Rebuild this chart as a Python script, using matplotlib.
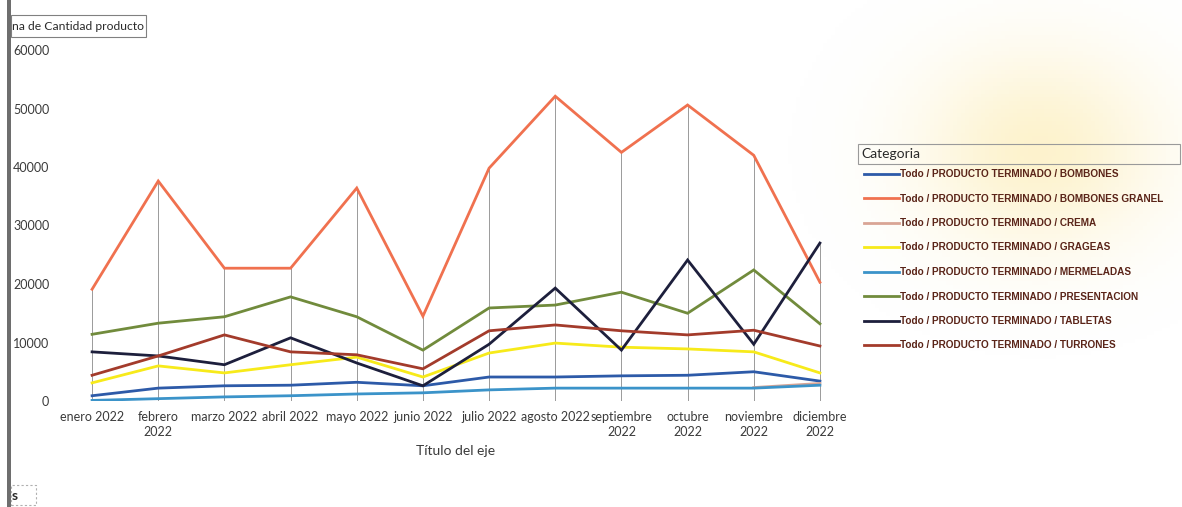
import numpy as np
import matplotlib
matplotlib.use("Agg")
import matplotlib.pyplot as plt
from matplotlib.patches import Rectangle

plt.rcParams['font.family'] = ['Lato', 'DejaVu Sans']

months = ["enero 2022", "febrero\n2022", "marzo 2022", "abril 2022", "mayo 2022",
          "junio 2022", "julio 2022", "agosto 2022", "septiembre\n2022",
          "octubre\n2022", "noviembre\n2022", "diciembre\n2022"]

nan = float("nan")
bombones = [900, 2200, 2600, 2700, 3200, 2600, 4100, 4100, 4300, 4400, 5000, 3400]
bombones_granel = [19100, 37600, 22700, 22700, 36400, 14500, 39800, 52100, 42500, 50600, 42000, 20300]
crema = [nan, nan, nan, nan, nan, nan, nan, nan, nan, nan, 2300, 3000]
grageas = [3100, 6000, 4800, 6200, 7500, 4100, 8200, 9900, 9200, 8900, 8400, 4800]
mermeladas = [100, 400, 700, 900, 1200, 1400, 1900, 2200, 2200, 2200, 2200, 2700]
presentacion = [11400, 13300, 14400, 17800, 14400, 8700, 15900, 16400, 18600, 15000, 22400, 13200]
tabletas = [8400, 7700, 6200, 10800, 6500, 2600, 9700, 19300, 8700, 24100, 9700, 27000]
turrones = [4400, 7700, 11300, 8400, 7900, 5500, 12000, 13000, 12000, 11300, 12100, 9400]

series_labels = ["Todo / PRODUCTO TERMINADO / BOMBONES",
                 "Todo / PRODUCTO TERMINADO / BOMBONES GRANEL",
                 "Todo / PRODUCTO TERMINADO / CREMA",
                 "Todo / PRODUCTO TERMINADO / GRAGEAS",
                 "Todo / PRODUCTO TERMINADO / MERMELADAS",
                 "Todo / PRODUCTO TERMINADO / PRESENTACION",
                 "Todo / PRODUCTO TERMINADO / TABLETAS",
                 "Todo / PRODUCTO TERMINADO / TURRONES"]
series_values = [bombones, bombones_granel, crema, grageas, mermeladas,
                 presentacion, tabletas, turrones]
colors = ["#2d5aa8", "#f0714f", "#d9a595", "#f7ea1a", "#3b93c9",
          "#718b3c", "#1d1f3c", "#a33b2b"]
y_ticks = [0, 10000, 20000, 30000, 40000, 50000, 60000]

W, H = 1182, 507
fig = plt.figure(figsize=(W / 100, H / 100), dpi=100)
fig.patch.set_facecolor("white")

# faint scan smudge (top right)
bg = fig.add_axes([0, 0, 1, 1], zorder=-5)
gx, gy = np.meshgrid(np.linspace(0, W, 300), np.linspace(0, H, 130))
d = ((gx - 1040) / 120) ** 2 + ((gy - 150) / 100) ** 2
alpha = 0.30 * np.exp(-d)
img = np.zeros((130, 300, 4))
img[..., 0] = 0.98
img[..., 1] = 0.84
img[..., 2] = 0.35
img[..., 3] = alpha
bg.imshow(img, extent=[0, W, H, 0], aspect="auto")
bg.set_xlim(0, W)
bg.set_ylim(H, 0)
bg.axis("off")

ax = fig.add_axes([59 / W, 1 - 401 / H, 794 / W, 351 / H])
ax.set_facecolor("none")
x = np.arange(len(months))

# drop lines
maxima = np.nanmax(np.array(series_values, dtype=float), axis=0)
ax.vlines(x, 0, maxima, color="#9a9a9a", linewidth=0.7, zorder=1)

for vals, col, lab in zip(series_values, colors, series_labels):
    ax.plot(x, vals, color=col, linewidth=2.0, label=lab, zorder=3,
            solid_joinstyle="miter")

ax.set_xlim(-0.5, len(months) - 0.5)
ax.set_ylim(0, 60000)
ax.set_yticks(y_ticks)
ax.set_yticklabels([str(v) for v in y_ticks])
ax.set_xticks(x)
ax.set_xticklabels(months, linespacing=1.3)
for s in ax.spines.values():
    s.set_visible(False)
ax.tick_params(axis="both", length=0, labelsize=9, colors="#3a3a3a")
ax.tick_params(axis="y", pad=7)
ax.tick_params(axis="x", pad=7)
ax.set_xlabel("Título del eje", fontsize=10, color="#3a3a3a", labelpad=5)

# legend
handles, labels = ax.get_legend_handles_labels()
leg = fig.legend(handles, labels, loc="upper left",
                 bbox_to_anchor=(860 / W, 1 - 165 / H), frameon=False,
                 prop={'family': 'Liberation Sans', 'size': 7.2, 'weight': 'bold'},
                 handlelength=3.5, handletextpad=0.1,
                 labelspacing=1.45, borderaxespad=0)
for t in leg.get_texts():
    t.set_color("#5a2418")
fig.text(861 / W, 1 - 154 / H, "Categoria", fontsize=10, color="#2a2a2a",
         va="center", ha="left")
fig.add_artist(Rectangle((858 / W, 1 - 164 / H), 322 / W, 20 / H,
                         transform=fig.transFigure, fill=False,
                         edgecolor="#9a9a9a", linewidth=0.8))

# left scan edge bar
fig.add_artist(Rectangle((7 / W, 0), 4 / W, 1, transform=fig.transFigure,
                         color="#6e6e6e", linewidth=0))

# clipped title box top-left
fig.text(12 / W, 1 - 26 / H, "na de Cantidad producto", fontsize=8.7,
         color="#2a2a2a", va="center", ha="left")
fig.add_artist(Rectangle((11 / W, 1 - 37 / H), 135 / W, 22 / H,
                         transform=fig.transFigure, fill=False,
                         edgecolor="#808080", linewidth=0.8))

# bottom-left clipped box
fig.text(12 / W, 1 - 496 / H, "s", fontsize=10, color="#2a2a2a",
         va="center", ha="left", fontweight="bold")
fig.add_artist(Rectangle((11 / W, 1 - 505 / H), 25 / W, 20 / H,
                         transform=fig.transFigure, fill=False,
                         edgecolor="#b0b0b0", linewidth=0.8, linestyle=(0, (2, 2))))

fig.savefig("out.png", dpi=100)
